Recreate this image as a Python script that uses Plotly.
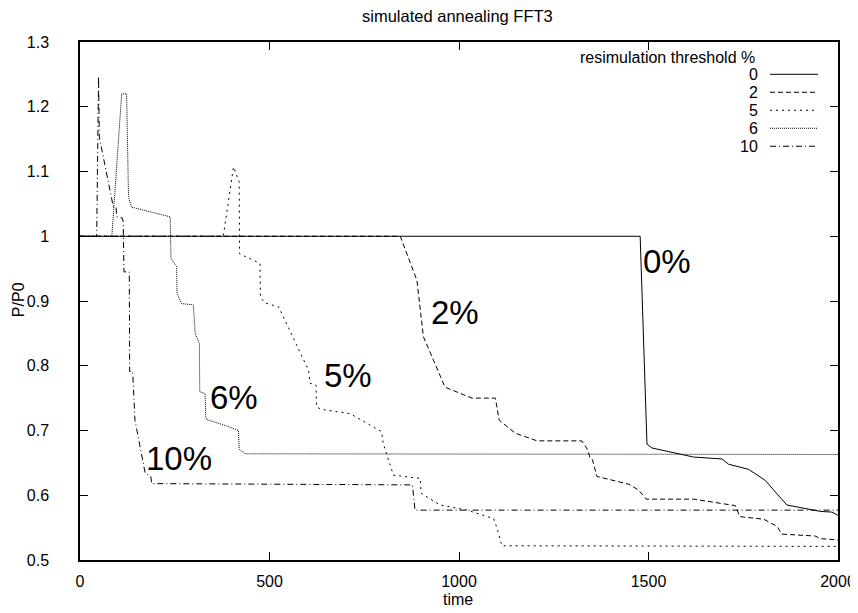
import plotly.graph_objects as go

# ---------------- data ----------------
thresholds = ["0", "2", "5", "6", "10"]

t0 = [0, 1478, 1496, 1509, 1619, 1694, 1711, 1764, 1808, 1865, 1954, 1984, 2000]
p0 = [1.0, 1.0, 0.679, 0.673, 0.659, 0.656, 0.648, 0.640, 0.623, 0.585, 0.575, 0.574, 0.569]

t2 = [0, 845, 889, 906, 963, 1034, 1096, 1106, 1148, 1206, 1324, 1340, 1346, 1352, 1364,
      1448, 1474, 1494, 1619, 1654, 1729, 1741, 1804, 1839, 1852, 1940, 1954, 2000]
p2 = [1.0, 1.0, 0.932, 0.845, 0.767, 0.750, 0.750, 0.716, 0.696, 0.684, 0.684, 0.670, 0.657, 0.655, 0.629,
      0.617, 0.608, 0.594, 0.594, 0.591, 0.584, 0.567, 0.563, 0.552, 0.540, 0.537, 0.533, 0.531]

t5 = [0, 378, 405, 420, 421, 475, 476, 488, 524, 603, 607, 623, 624, 634, 713, 796, 800, 827,
      898, 900, 950, 1021, 1091, 1100, 1113, 2000]
p5 = [1.0, 1.0, 1.107, 1.084, 0.973, 0.958, 0.906, 0.897, 0.891, 0.793, 0.773, 0.770, 0.737, 0.733,
      0.726, 0.698, 0.680, 0.631, 0.626, 0.603, 0.585, 0.577, 0.564, 0.550, 0.522, 0.521]

t6 = [0, 84, 110, 123, 128, 136, 238, 240, 255, 256, 268, 299, 304, 315, 316, 330, 332, 334,
      392, 418, 420, 436, 2000]
p6 = [1.0, 1.0, 1.220, 1.220, 1.061, 1.045, 1.030, 0.966, 0.953, 0.912, 0.896, 0.894, 0.850, 0.834,
      0.760, 0.757, 0.721, 0.717, 0.706, 0.700, 0.671, 0.664, 0.663]

t10 = [0, 44, 49, 51, 88, 95, 97, 112, 114, 116, 130, 131, 139, 145, 172, 187, 189, 877, 884, 2000]
p10 = [1.0, 1.0, 1.247, 1.153, 1.045, 1.045, 1.030, 1.028, 1.022, 0.945, 0.945, 0.791, 0.791, 0.716,
       0.634, 0.629, 0.618, 0.616, 0.577, 0.577]

x_ticks = [0, 500, 1000, 1500, 2000]
y_ticks = [0.5, 0.6, 0.7, 0.8, 0.9, 1.0, 1.1, 1.2, 1.3]
y_tick_text = ["0.5", "0.6", "0.7", "0.8", "0.9", "1", "1.1", "1.2", "1.3"]

curve_labels = ["0%", "2%", "5%", "6%", "10%"]

# ---------------- styles ----------------
series = [(t0, p0), (t2, p2), (t5, p5), (t6, p6), (t10, p10)]
dashes = ["solid", "5px,3px", "2px,4px", "1px,1px", "6px,3px,1px,3px"]
label_pos = [(1550, 0.961), (990, 0.883), (708, 0.785), (405, 0.751), (260, 0.656)]

FONT = "Liberation Sans, Arial, Helvetica, sans-serif"

fig = go.Figure()
for (t, p), d, name in zip(series, dashes, thresholds):
    fig.add_trace(go.Scatter(x=t, y=p, mode="lines", name=name, showlegend=False,
                             line=dict(color="black", width=1, dash=d)))

annotations = []
for txt, (x, y) in zip(curve_labels, label_pos):
    annotations.append(dict(x=x, y=y, xref="x", yref="y", text=txt, showarrow=False,
                            font=dict(family=FONT, size=33, color="black"),
                            xanchor="center", yanchor="middle"))

# page has an 8px body margin: figure sits at (8, 8)
OFF = 8
FW, FH = 858 - OFF, 613 - OFF
# plot area in window pixels
L, R, T, B = 80, 838, 41.7, 560.0
W, H = R - L, B - T
def px(x):
    return (x - L) / W
def py(y):
    return (B - y) / H

annotations.append(dict(x=px(757), y=py(57), xref="paper", yref="paper",
                        text="resimulation threshold %", showarrow=False,
                        xanchor="right", yanchor="middle",
                        font=dict(family=FONT, size=16, color="black")))
shapes = []
leg_y = [74, 92, 110, 128, 146]
for name, d, yy in zip(thresholds, dashes, leg_y):
    annotations.append(dict(x=px(760), y=py(yy), xref="paper", yref="paper", text=name,
                            showarrow=False, xanchor="right", yanchor="middle",
                            font=dict(family=FONT, size=16, color="black")))
    shapes.append(dict(type="line", xref="paper", yref="paper",
                       x0=px(770), x1=px(818), y0=py(yy), y1=py(yy),
                       line=dict(color="black", width=1, dash=d)))

annotations.append(dict(x=px(18), y=py(300), xref="paper", yref="paper", text="P/P0",
                        textangle=-90, showarrow=False, xanchor="center", yanchor="middle",
                        font=dict(family=FONT, size=16, color="black")))
annotations.append(dict(x=px(458), y=py(600), xref="paper", yref="paper", text="time",
                        showarrow=False, xanchor="center", yanchor="middle",
                        font=dict(family=FONT, size=16, color="black")))
annotations.append(dict(x=px(457), y=py(15.5), xref="paper", yref="paper",
                        text="simulated annealing FFT3",
                        showarrow=False, xanchor="center", yanchor="middle",
                        font=dict(family=FONT, size=16.5, color="black")))

axis_common = dict(showline=True, linecolor="black", linewidth=1.5, mirror="ticks",
                   ticks="inside", ticklen=8, tickwidth=1, tickcolor="black",
                   showgrid=False, zeroline=False, automargin=False,
                   tickfont=dict(family=FONT, size=16, color="black"))

fig.update_layout(
    template="none",
    width=FW, height=FH,
    margin=dict(l=L - OFF, r=858 - R, t=T - OFF, b=613 - B, autoexpand=False),
    paper_bgcolor="white", plot_bgcolor="white",
    xaxis=dict(range=[0, 2000], tickvals=x_ticks, ticklabelstandoff=6, **axis_common),
    yaxis=dict(range=[0.5, 1.3], tickvals=y_ticks, ticktext=y_tick_text,
               ticklabelstandoff=26, **axis_common),
    annotations=annotations, shapes=shapes,
)

fig.write_html("out.html")
